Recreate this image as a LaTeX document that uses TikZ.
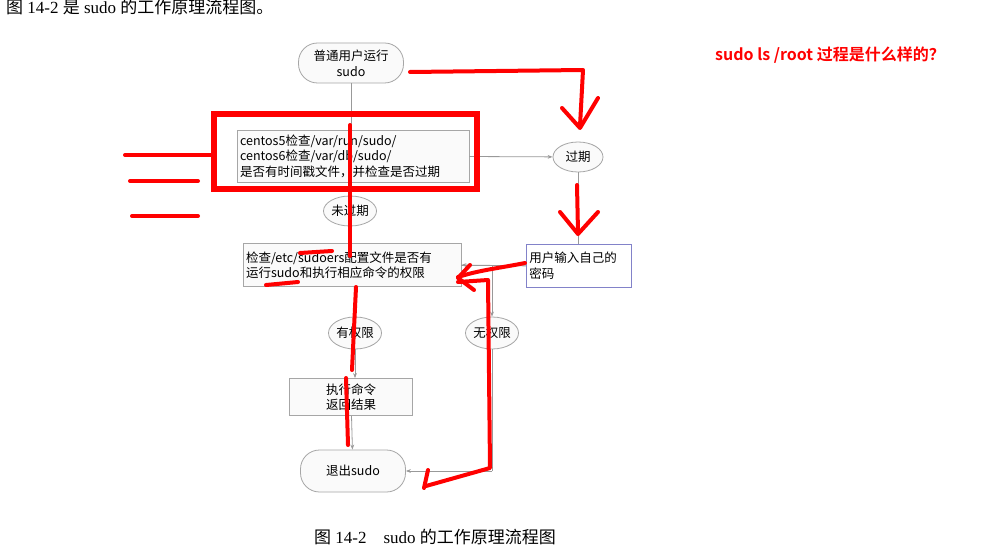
\documentclass[tikz,border=0pt]{standalone}
\usepackage{fontspec}
\setmainfont{Liberation Serif}
\newfontfamily\cjk{Noto Sans CJK SC}
\newfontfamily\cjkb{Noto Sans CJK SC Bold}
\usetikzlibrary{shapes.geometric,arrows.meta}
\begin{document}
\begin{tikzpicture}[x=1pt,y=-1pt,
  box/.style={draw=gray!70,fill=gray!4,line width=0.8pt,font=\cjk\fontsize{12.5}{15.5}\selectfont,align=left,inner sep=3pt},
  pill/.style={draw=gray!70,fill=gray!4,line width=0.8pt,rounded corners=19pt,font=\cjk\fontsize{12.5}{16}\selectfont,align=center},
  oval/.style={ellipse,draw=gray!70,fill=gray!4,line width=0.8pt,font=\cjk\fontsize{12.5}{13}\selectfont,inner sep=0pt},
  conn/.style={draw=gray!80,line width=0.8pt,-{Stealth[length=5pt]}},
  plain/.style={draw=gray!80,line width=0.8pt},
  red/.style={draw=red,line width=4pt,line cap=round,line join=round}]
\useasboundingbox (0,0) rectangle (1000,556);
\fill[white] (0,0) rectangle (1000,556);
\node[anchor=west,font=\fontsize{17}{18}\selectfont,inner sep=0pt] (title) at (6,7) {{\cjk 图} 14-2 {\cjk 是} sudo {\cjk 的工作原理流程图。}};
\node[pill,minimum width=105pt,minimum height=40pt] (start) at (351,63) {普通用户运行\\sudo};
\node[box,text width=226pt,minimum height=52pt] (b1) at (353,156) {centos5检查/var/run/sudo/\\centos6检查/var/db/sudo/\\是否有时间戳文件，并检查是否过期};
\node[oval,minimum width=50pt,minimum height=30pt] (exp) at (578,157) {过期};
\node[oval,minimum width=50pt,minimum height=30pt] (nexp) at (350,211) {未过期};
\node[box,text width=212pt,minimum height=43pt] (b2) at (352,265) {检查/etc/sudoers配置文件是否有\\运行sudo和执行相应命令的权限};
\node[box,draw=blue!40!gray!70,fill=white,text width=99pt,minimum height=43pt,anchor=north west] (pw) at (526,244) {用户输入自己的\\密码};
\node[oval,minimum width=50pt,minimum height=32pt] (yes) at (355,333) {有权限};
\node[oval,minimum width=50pt,minimum height=32pt] (no) at (492,333) {无权限};
\node[box,align=center,minimum width=123pt,minimum height=37pt] (run) at (351,397) {执行命令\\返回结果};
\node[pill,minimum width=105pt,minimum height=42pt] (quit) at (353,471) {退出sudo};
\node[font=\fontsize{17}{18}\selectfont] (cap) at (435,537) {{\cjk 图} 14-2\quad sudo {\cjk 的工作原理流程图}};
\node[font=\cjkb\fontsize{16}{18}\selectfont,text=red] (q) at (830,55) {sudo ls /root 过程是什么样的？};
% connectors
\draw[plain] (start) -- (b1.north -| start);
\draw[conn] (b1) -- (exp);
\draw[plain] (exp) -- (pw.north -| exp);
\draw[conn] (pw.west) -- (b2.east);
\draw[plain] (b1.south -| nexp) -- (nexp);
\draw[conn] (nexp) -- (b2.north -| nexp);
\draw[plain] (b2.south -| yes) -- (yes);
\draw[conn] (yes) -- (run.north -| yes);
\draw[conn] (run) -- (quit);
\coordinate (c1) at (492,265);
\draw[conn] (b2.east) -- (c1) -- (no);
\coordinate (c2) at (492,471);
\draw[plain] (no) -- (c2);
\draw[conn] (c2) -- (quit.east);
% red annotations
\draw[red,line width=6pt,line cap=butt,line join=miter] (214,114) rectangle (477,189);
\draw[red] (125,155) -- (212,155);
\draw[red] (130,181) -- (198,181);
\draw[red] (132,216) -- (198,216);
\draw[red] (410,72) -- (583,70) -- (580,126);
\draw[red] (562,108) -- (580,128) -- (598,98);
\draw[red] (577,185) -- (578,232);
\draw[red] (560,212) -- (578,234) -- (598,212);
\draw[red] (350,125) -- (350,256);
\draw[red] (300,253) -- (332,251);
\draw[red] (266,285) -- (298,282);
\draw[red] (525,263) .. controls (500,268) and (480,270) .. (458,277);
\draw[red] (470,265) -- (458,278) -- (474,290);
\draw[red] (356,287) -- (352,370);
\draw[red] (346,378) -- (348,445);
\draw[red] (458,282) -- (488,280) -- (490,468) -- (426,486);
\draw[red] (428,470) -- (424,488);
\end{tikzpicture}
\end{document}
